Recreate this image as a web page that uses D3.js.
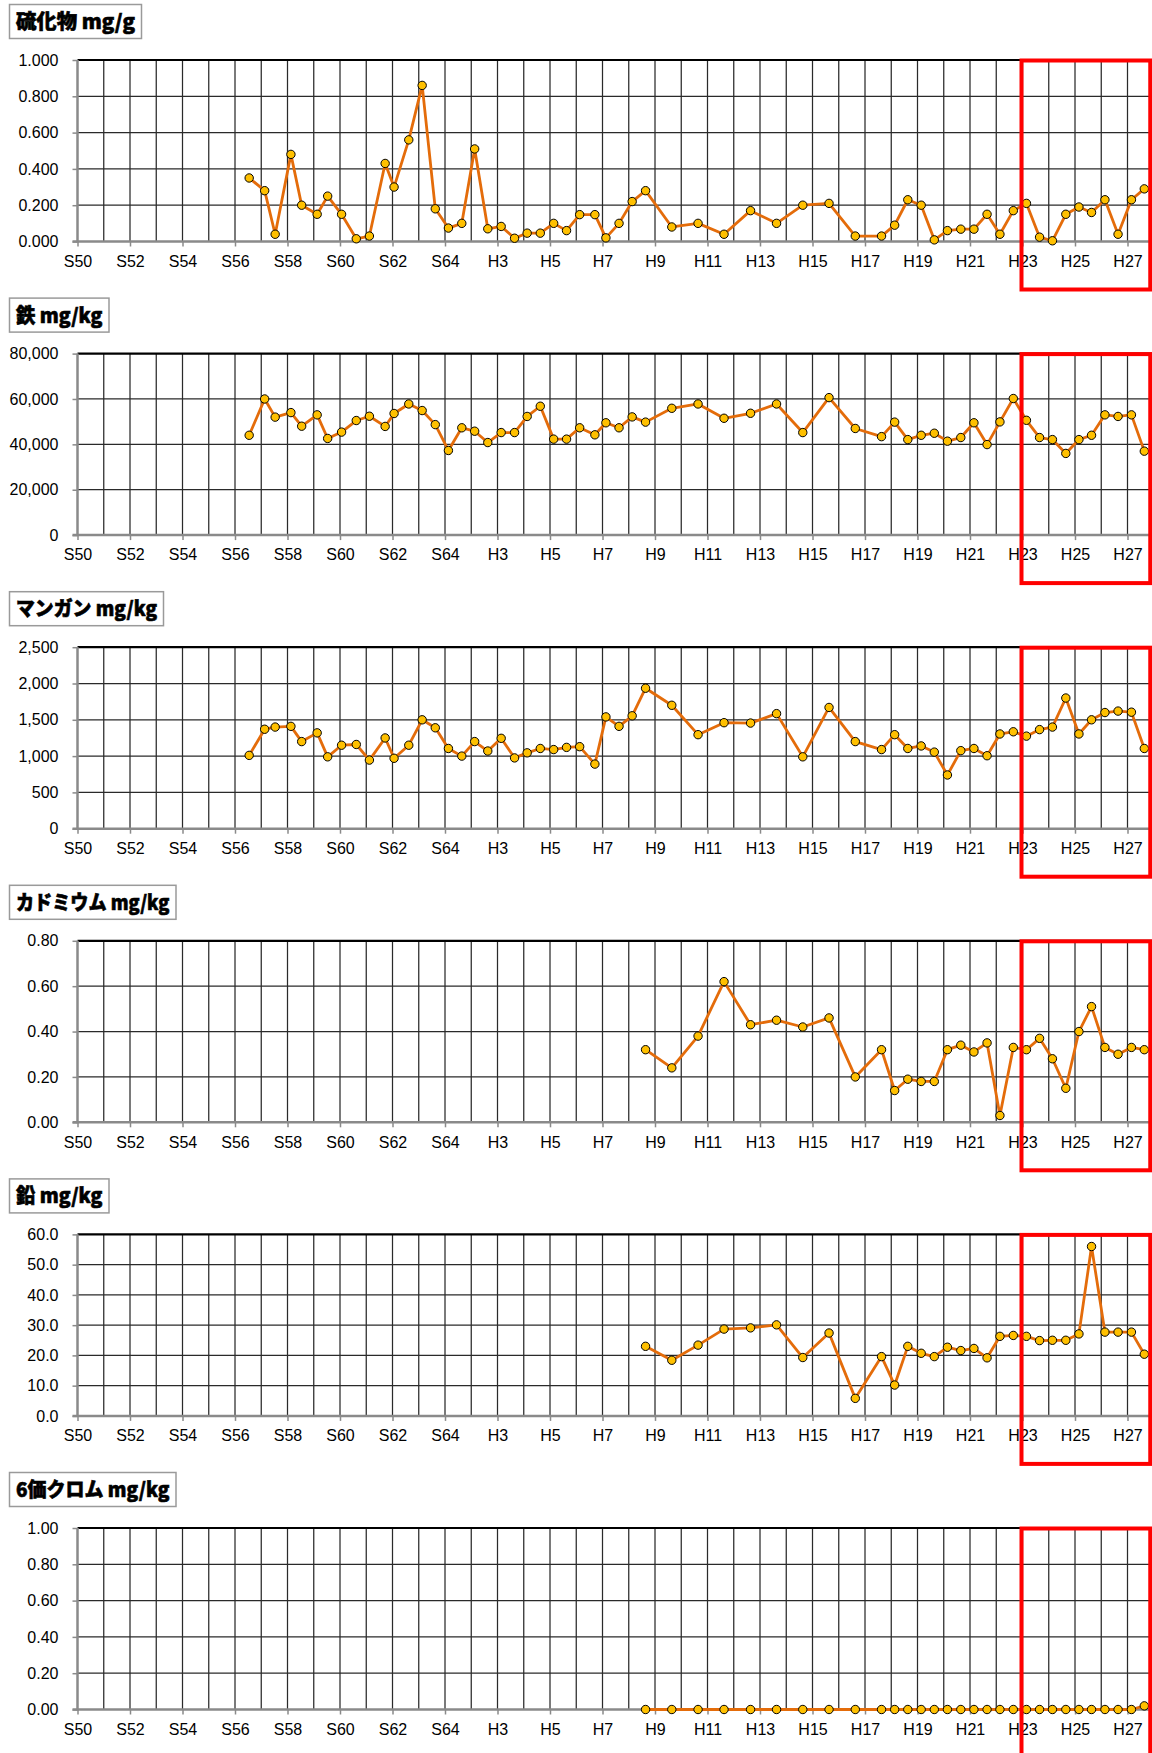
<!DOCTYPE html>
<html>
<head>
<meta charset="utf-8">
<script src="https://cdn.jsdelivr.net/npm/d3@7"></script>
<style>
html, body { margin: 0; padding: 0; background: #fff; overflow: hidden; }
</style>
</head>
<body>
<div id="chart"></div>
<script>
// ---------- DATA ----------
// Fiscal-year categories on the x axis (S64 = H1)
const years = ["S50","S51","S52","S53","S54","S55","S56","S57","S58","S59","S60","S61","S62","S63","S64",
  "H2","H3","H4","H5","H6","H7","H8","H9","H10","H11","H12","H13","H14","H15","H16","H17","H18","H19",
  "H20","H21","H22","H23","H24","H25","H26","H27","H28"];

// Sampling times, in years counted from S50
const sampleTimes = [6.54,7.13,7.53,8.13,8.54,9.13,9.53,10.06,10.62,11.12,11.72,12.06,12.62,13.13,13.63,
  14.13,14.64,15.13,15.63,16.14,16.65,17.13,17.63,18.14,18.63,19.13,19.71,20.13,20.63,21.13,
  21.64,22.64,23.64,24.63,25.64,26.63,27.63,28.63,29.63,30.63,31.13,31.63,32.14,32.64,33.14,33.65,
  34.15,34.65,35.14,35.65,36.15,36.65,37.14,37.65,38.15,38.63,39.14,39.64,40.15,40.64];
// Heavy metals were measured from H8 on (the last 30 sampling times)
const metalTimes = sampleTimes.slice(30);

const sulfide = [0.35,0.28,0.04,0.48,0.20,0.15,0.25,0.15,0.015,0.03,0.43,0.30,0.56,0.86,0.18,
  0.074,0.10,0.51,0.07,0.083,0.018,0.046,0.046,0.10,0.06,0.148,0.148,0.02,0.10,0.22,
  0.28,0.08,0.10,0.04,0.17,0.10,0.20,0.21,0.03,0.03,0.09,0.23,0.20,0.009,0.06,0.068,
  0.068,0.15,0.04,0.17,0.21,0.024,0.004,0.15,0.19,0.16,0.23,0.04,0.23,0.29];

const iron = [44000,60000,52000,54000,48000,53000,42600,45400,50500,52400,47900,53600,57800,54900,48700,
  37300,47300,45800,40800,45200,45200,52300,56800,42300,42300,47300,44200,49500,47300,52100,
  49800,55900,57800,51500,53700,57800,45200,60600,47000,43400,49800,42100,44000,44900,41400,43000,
  49500,39900,49900,60200,50600,43000,42100,36000,42100,44000,53000,52300,53000,37000];

const manganese = [1010,1370,1400,1410,1200,1320,990,1150,1160,945,1250,970,1150,1500,1390,
  1105,1000,1200,1070,1245,975,1045,1105,1090,1120,1130,890,1540,1410,1555,
  1935,1700,1295,1460,1455,1585,990,1670,1200,1090,1295,1105,1140,1055,740,1075,
  1105,1005,1305,1335,1275,1365,1400,1800,1305,1500,1600,1620,1605,1105];

const cadmium = [0.32,0.24,0.38,0.62,0.43,0.45,0.42,0.46,0.20,0.32,0.14,0.19,0.18,0.18,0.32,0.34,
  0.31,0.35,0.03,0.33,0.32,0.37,0.28,0.15,0.40,0.51,0.33,0.30,0.33,0.32];

const lead = [23.0,18.4,23.4,28.7,29.1,30.1,19.3,27.4,5.8,19.6,10.2,23.0,20.7,19.6,22.7,21.6,
  22.3,19.2,26.3,26.6,26.3,24.9,25.0,25.0,27.1,56.0,27.7,27.7,27.7,20.4];

const chromium6 = [0,0,0,0,0,0,0,0,0,0,0,0,0,0,0,0,0,0,0,0,0,0,0,0,0,0,0,0,0,0.02];

const titles = ["硫化物 mg/g", "鉄 mg/kg", "マンガン mg/kg", "カドミウム mg/kg", "鉛 mg/kg", "6価クロム mg/kg"];
const yTickValues = [
  [0, 0.2, 0.4, 0.6, 0.8, 1.0],
  [0, 20000, 40000, 60000, 80000],
  [0, 500, 1000, 1500, 2000, 2500],
  [0, 0.2, 0.4, 0.6, 0.8],
  [0, 10, 20, 30, 40, 50, 60],
  [0, 0.2, 0.4, 0.6, 0.8, 1.0]
];
const yFormats = [".3f", ",", ",", ".2f", ".1f", ".2f"];
const xLabelYears = years.filter((d, i) => i % 2 === 0 && i <= 40);

// ---------- LAYOUT ----------
const titleTextWidths = [119, 86.5, 141, 153.5, 86.5, 153.5];

// ---------- CHART ----------
const W = 1152, H = 1753;
const svg = d3.select("#chart").append("svg")
  .attr("width", W).attr("height", H)
  .style("display", "block");

const x = d3.scaleLinear().domain([0, years.length - 1]).range([77.5, 1153.75]);

const panels = [
  { values: sulfide,   times: sampleTimes },
  { values: iron,      times: sampleTimes },
  { values: manganese, times: sampleTimes },
  { values: cadmium,   times: metalTimes },
  { values: lead,      times: metalTimes },
  { values: chromium6, times: metalTimes }
];

const tickFont = "'Liberation Sans', Arial, sans-serif";

panels.forEach((p, k) => {
  const top = 60 + 293.6 * k;
  const bottom = top + 181.5;
  const ticks = yTickValues[k];
  const y = d3.scaleLinear().domain([0, d3.max(ticks)]).range([bottom, top]);
  const g = svg.append("g");

  // Title box
  const tw = titleTextWidths[k];
  g.append("rect")
    .attr("x", 9.5).attr("y", top - 55.5)
    .attr("width", tw + 13).attr("height", 34)
    .attr("fill", "#fff")
    .attr("stroke", "#9a9a9a").attr("stroke-width", 1.5);
  g.append("text")
    .attr("x", 16).attr("y", top - 31)
    .attr("font-family", "'Noto Sans CJK JP', 'Noto Sans', sans-serif")
    .attr("font-weight", 900)
    .attr("font-size", 20)
    .attr("fill", "#000")
    .attr("stroke", "#000").attr("stroke-width", 0.6)
    .attr("textLength", tw).attr("lengthAdjust", "spacingAndGlyphs")
    .text(titles[k]);

  // Vertical gridlines
  g.append("g").selectAll("line")
    .data(d3.range(1, years.length))
    .join("line")
    .attr("x1", d => x(d)).attr("x2", d => x(d))
    .attr("y1", top).attr("y2", bottom)
    .attr("stroke", "#2a2a2a").attr("stroke-width", 1.25);

  // Horizontal gridlines
  g.append("g").selectAll("line")
    .data(ticks.slice(1, -1))
    .join("line")
    .attr("x1", x(0)).attr("x2", x(years.length - 1))
    .attr("y1", d => y(d)).attr("y2", d => y(d))
    .attr("stroke", "#2a2a2a").attr("stroke-width", 1.25);

  // Top border
  g.append("line")
    .attr("x1", x(0)).attr("x2", x(years.length - 1))
    .attr("y1", top).attr("y2", top)
    .attr("stroke", "#000").attr("stroke-width", 2.2);

  // Y axis
  const ya = g.append("g")
    .attr("transform", `translate(${x(0)},0)`)
    .call(d3.axisLeft(y).tickValues(ticks).tickFormat(d3.format(yFormats[k])).tickSize(5).tickPadding(14));
  ya.select(".domain").remove();
  ya.selectAll(".tick line").attr("stroke", "#8a8a8a").attr("stroke-width", 1.5);
  ya.selectAll(".tick text").attr("font-family", tickFont).attr("font-size", 16).attr("fill", "#000");

  // X axis
  const xa = g.append("g")
    .attr("transform", `translate(0,${bottom})`)
    .call(d3.axisBottom(x)
      .tickValues(xLabelYears.map(d => years.indexOf(d)))
      .tickFormat(i => years[i])
      .tickSize(5).tickPadding(9));
  xa.select(".domain").remove();
  xa.selectAll(".tick line").attr("stroke", "#8a8a8a").attr("stroke-width", 1.5);
  xa.selectAll(".tick text").attr("font-family", tickFont).attr("font-size", 16).attr("fill", "#000");

  // Axis lines
  g.append("line")
    .attr("x1", x(0)).attr("x2", x(0)).attr("y1", top).attr("y2", bottom + 1)
    .attr("stroke", "#8a8a8a").attr("stroke-width", 2.5);
  g.append("line")
    .attr("x1", x(0) - 5).attr("x2", x(years.length - 1)).attr("y1", bottom).attr("y2", bottom)
    .attr("stroke", "#8a8a8a").attr("stroke-width", 2.5);

  // Data line
  const pts = p.values.map((v, i) => [p.times[i], v]);
  g.append("path")
    .datum(pts)
    .attr("fill", "none")
    .attr("stroke", "#E46C0A")
    .attr("stroke-width", 2.8)
    .attr("stroke-linejoin", "round")
    .attr("d", d3.line().x(d => x(d[0])).y(d => y(d[1])));

  g.append("g").selectAll("circle")
    .data(pts)
    .join("circle")
    .attr("cx", d => x(d[0])).attr("cy", d => y(d[1]))
    .attr("r", 4.2)
    .attr("fill", "#FFC000")
    .attr("stroke", "#000").attr("stroke-width", 1);
});

// Red highlight boxes (drawn on top)
panels.forEach((p, k) => {
  const top = 60 + 293.6 * k;
  const bottom = top + 181.5;
  svg.append("rect")
    .attr("x", x(36) - 1).attr("y", top + 0.5)
    .attr("width", x(41) - x(36) - 2.5).attr("height", bottom - top + 47.5)
    .attr("fill", "none")
    .attr("stroke", "#FF0000").attr("stroke-width", 4);
});
</script>
</body>
</html>
